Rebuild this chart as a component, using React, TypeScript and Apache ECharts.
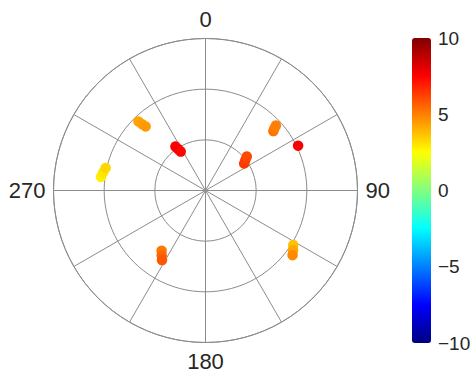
import React, { useEffect, useRef } from 'react';
import * as echarts from 'echarts';

// Angle tick labels shown (every 90 degrees); grid every 30 degrees
const ANGLE_LABELS = ['0', '90', '180', '270'];
// Colorbar tick labels
const COLORBAR_TICKS = [-10, -5, 0, 5, 10];
// Jet colormap, evenly spaced stops from -10 to 10
const JET = ['#000080', '#0000ff', '#0080ff', '#00ffff', '#80ff80', '#ffff00', '#ff8000', '#ff0000', '#800000'];

// Data points: angle (deg, clockwise from north), radius, colour value
const THETA = [325.6, 326.5, 327.5, 315.8, 316.3, 316.9, 277.4, 280.0, 282.7, 48.8, 48.0, 47.3, 64.2, 55.1, 52.7, 50.6, 216.1, 214.0, 212.0, 121.9, 124.2, 126.6];
const RHO = [1.05, 0.98, 0.91, 1.9, 1.81, 1.73, 2.08, 2.05, 2.02, 1.78, 1.83, 1.89, 2.03, 0.93, 0.99, 1.055, 1.47, 1.546, 1.62, 2.04, 2.09, 2.14];
const VALUE = [7.5, 7.6, 7.4, 4.3, 4.4, 4.5, 2.8, 3.0, 3.3, 5.3, 5.1, 5.0, 7.6, 6.4, 6.3, 6.1, 5.2, 5.5, 5.8, 3.7, 4.2, 4.8];

const GRID = '#8c8c8c';
const TEXT = '#262626';
const FONT = '"Liberation Sans", Arial, Helvetica, sans-serif';

export default function App() {
  const ref = useRef<HTMLDivElement>(null);
  useEffect(() => {
    if (!ref.current) return;
    const chart = echarts.init(ref.current, undefined, { renderer: 'svg' });
    const data = THETA.map((t, i) => [RHO[i], t, VALUE[i]]);
    chart.setOption({
      animation: false,
      backgroundColor: '#ffffff',
      textStyle: { fontFamily: FONT },
      polar: { center: [205.5, 190.5], radius: 152 },
      angleAxis: {
        type: 'value',
        min: 0,
        max: 360,
        interval: 30,
        startAngle: 90,
        clockwise: true,
        axisLine: { show: true, lineStyle: { color: GRID, width: 1 } },
        axisTick: { show: false },
        axisLabel: {
          show: true,
          margin: 8,
          fontSize: 22,
          color: TEXT,
          fontFamily: FONT,
          formatter: (v: number) => (v !== 360 && ANGLE_LABELS.includes(String(v)) ? String(v) : ''),
        },
        splitLine: { show: true, lineStyle: { color: GRID, width: 1 } },
      },
      radiusAxis: {
        type: 'value',
        min: 0,
        max: 3,
        interval: 1,
        axisLine: { show: false },
        axisTick: { show: false },
        axisLabel: { show: false },
        splitLine: { show: true, lineStyle: { color: GRID, width: 1 } },
      },
      visualMap: {
        type: 'continuous',
        min: -10,
        max: 10,
        dimension: 2,
        seriesIndex: 0,
        inRange: { color: JET },
        left: 412,
        top: 38,
        itemWidth: 19,
        itemHeight: 305,
        padding: 0,
        calculable: false,
        hoverLink: false,
        text: null,
        orient: 'vertical',
      },
      grid: { left: 412, top: 38, width: 19, height: 305 },
      xAxis: { type: 'value', show: false, min: 0, max: 1 },
      yAxis: {
        type: 'value',
        min: -10,
        max: 10,
        interval: 5,
        position: 'right',
        axisLine: { show: false },
        axisTick: { show: false },
        splitLine: { show: false },
        axisLabel: {
          margin: 7,
          fontSize: 19,
          color: TEXT,
          fontFamily: FONT,
          formatter: (v: number) => (COLORBAR_TICKS.includes(v) ? String(v).replace('-', '\u2212') : ''),
        },
      },
      series: [
        {
          type: 'scatter',
          coordinateSystem: 'polar',
          symbol: 'circle',
          symbolSize: 10.5,
          data,
          itemStyle: { opacity: 1 },
        },
      ],
    });
    return () => chart.dispose();
  }, []);
  return <div ref={ref} style={{ position: 'fixed', left: 0, top: 0, width: 475, height: 374 }} />;
}
